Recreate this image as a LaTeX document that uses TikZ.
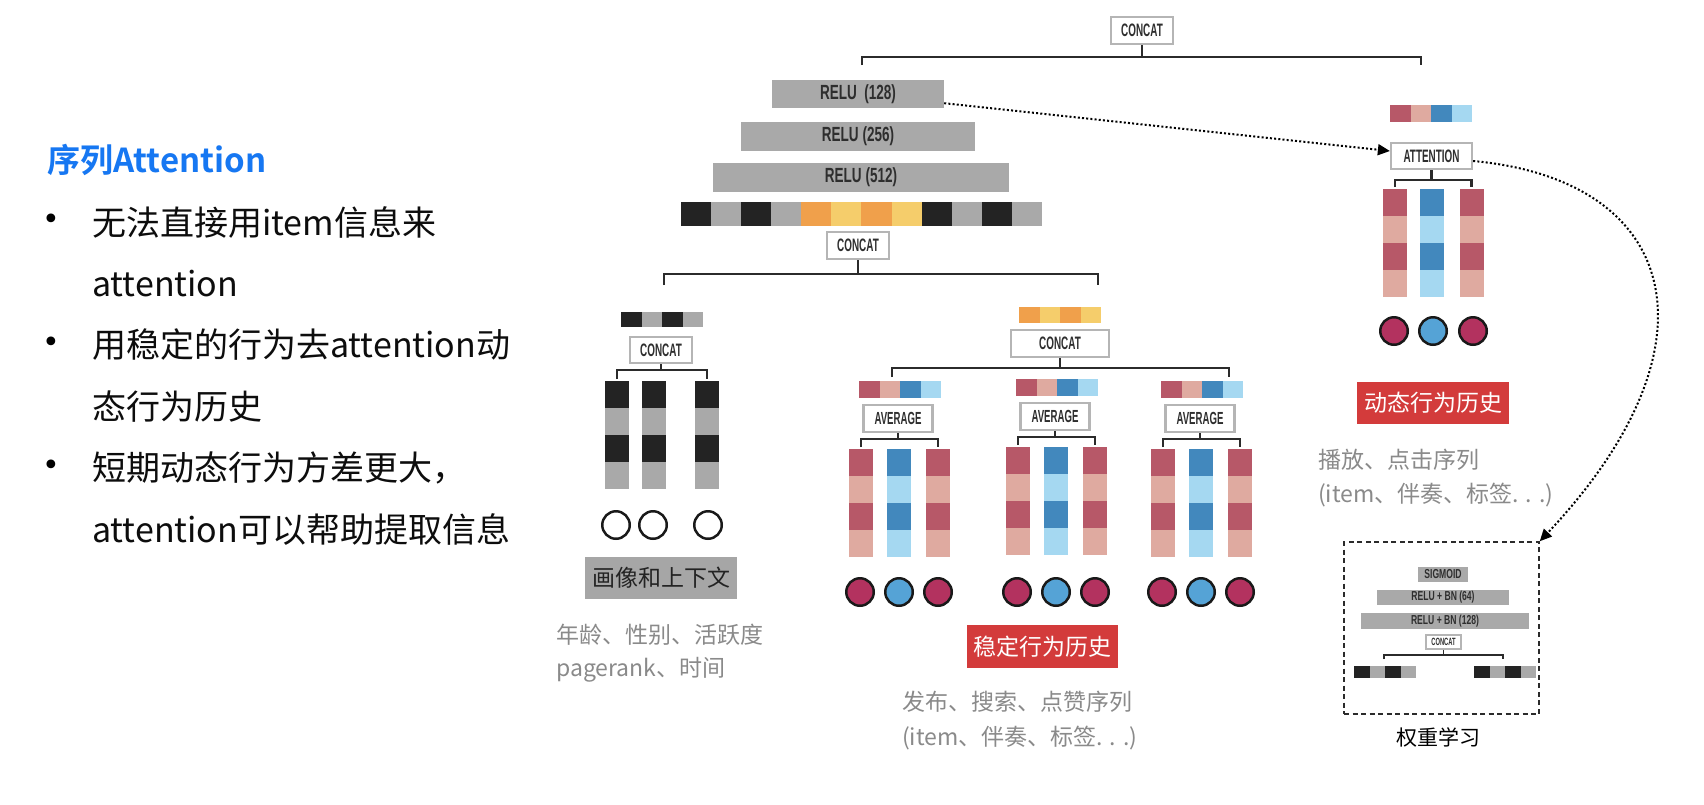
\documentclass[tikz,border=0pt]{standalone}
\usepackage{fontspec}
\setmainfont{Noto Sans CJK SC}
\newfontfamily\cjk[BoldFont={Noto Sans CJK SC Bold}]{Noto Sans CJK SC}
\newfontfamily\bulfont{DejaVu Sans}
\newfontfamily\cfont[FakeStretch=0.55]{Liberation Sans Bold}
\newfontfamily\rfont[FakeStretch=0.66]{Liberation Sans Bold}
\usetikzlibrary{arrows.meta}
\definecolor{bk}{HTML}{232323}
\definecolor{gy}{HTML}{A9A9A9}
\definecolor{orA}{HTML}{F0A04B}
\definecolor{ylA}{HTML}{F5CD6B}
\definecolor{drA}{HTML}{B75868}
\definecolor{pkA}{HTML}{DFAAA0}
\definecolor{buA}{HTML}{4288BD}
\definecolor{lbA}{HTML}{A5D8F1}
\definecolor{crc}{HTML}{B3325F}
\definecolor{blc}{HTML}{55A3D6}
\definecolor{boxg}{HTML}{B5B5B5}
\definecolor{redl}{HTML}{D33B3B}
\definecolor{labg}{HTML}{A6A6A6}
\definecolor{txtg}{HTML}{8A8A8A}
\definecolor{ttlb}{HTML}{1677F2}
\definecolor{lnk}{HTML}{2B2B2B}
\definecolor{txk}{HTML}{2E2E2E}
% vector of equal segments: x-left, y-top, seg width, height, colours
\newcommand\myvec[5]{%
  \foreach \c [count=\i from 0] in {#5} {\fill[\c] ({#1+\i*#3},{#2}) rectangle ({#1+(\i+1)*#3},{#2+#4});}%
}
% column of 4 segments: name, centre x, top y, colour A, colour B
\newcommand\mycol[5]{%
  \fill[#4] ({#2-12},{#3}) rectangle ({#2+12},{#3+27});
  \fill[#5] ({#2-12},{#3+27}) rectangle ({#2+12},{#3+54});
  \fill[#4] ({#2-12},{#3+54}) rectangle ({#2+12},{#3+81});
  \fill[#5] ({#2-12},{#3+81}) rectangle ({#2+12},{#3+108});
  \coordinate (#1) at ({#2},{#3-2});
}
% average group: index, centre x, top y of vector
\newcommand\avggroup[3]{%
  \myvec{#2-40}{#3}{20.5}{17}{drA,pkA,buA,lbA}
  \node[box, font=\cfont\fontsize{17.5}{17.5}\selectfont, minimum width=69pt, minimum height=27pt] (avg#1) at ({#2-1},{#3+37.5}) {AVERAGE};
  \mycol{a#1c1}{#2-38}{#3+68}{drA}{pkA}
  \mycol{a#1c2}{#2}{#3+68}{buA}{lbA}
  \mycol{a#1c3}{#2+39}{#3+68}{drA}{pkA}
  \draw[conn] (a#1c1) |- (avg#1.south |- 0,{#3+58}) -| (a#1c3);
  \draw[conn] (avg#1.south) -- (avg#1.south |- 0,{#3+58});
  \node[circ, fill=crc] (a#1o1) at ({#2-39},592) {};
  \node[circ, fill=blc] (a#1o2) at ({#2},592) {};
  \node[circ, fill=crc] (a#1o3) at ({#2+39},592) {};
}
\begin{document}
\begin{tikzpicture}[x=1pt,y=-1pt,
  box/.style={draw=boxg, line width=2.3pt, fill=white, inner sep=0pt, text=txk, font=\cfont\fontsize{18}{18}\selectfont},
  bar/.style={fill=gy, inner sep=0pt, text=txk, font=\rfont\fontsize{20.5}{20.5}\selectfont},
  sbar/.style={fill=gy, inner sep=0pt, text=txk, font=\rfont\fontsize{13}{13}\selectfont},
  sbox/.style={draw=boxg, line width=1.2pt, fill=white, inner sep=0pt, text=txk, font=\cfont\fontsize{10.5}{10.5}\selectfont},
  conn/.style={draw=lnk, line width=2.2pt},
  sconn/.style={draw=lnk, line width=1.2pt},
  circ/.style={circle, draw=black!90, line width=2.5pt, minimum size=27.5pt, inner sep=0pt},
  redlab/.style={fill=redl, text=white, inner sep=0pt, minimum width=152pt, minimum height=42pt, font=\cjk\fontsize{23}{23}\selectfont},
  graylab/.style={fill=labg, text=bk, inner sep=0pt, minimum width=152pt, minimum height=42pt, font=\cjk\fontsize{23}{23}\selectfont},
  gtxt/.style={text=txtg, anchor=west, inner sep=0pt, font=\cjk\fontsize{23}{23}\selectfont},
  ttl/.style={text=ttlb, anchor=west, inner sep=0pt, font=\cjk\bfseries\fontsize{33}{33}\selectfont},
  bul/.style={text=black, inner sep=0pt, font=\bulfont\fontsize{30}{30}\selectfont},
  btxt/.style={text=black!95, anchor=west, inner sep=0pt, font=\cjk\fontsize{34}{34}\selectfont},
  dotarrow/.style={draw=black, line width=2pt, dash pattern=on 2pt off 2.2pt, -{Triangle[length=12pt,width=11pt]}}
]
\useasboundingbox (0,0) rectangle (1704,804);
\fill[white] (0,0) rectangle (1704,804);

% ---------- left text ----------
\node[ttl] (title) at (47,160) {序列Attention};
\node[bul] (b1) at (51,222) {•};
\node[bul] (b2) at (51,345) {•};
\node[bul] (b3) at (51,468) {•};
\node[btxt] (l1) at (92,222) {无法直接用item信息来};
\node[btxt] (l2) at (92,283.5) {attention};
\node[btxt] (l3) at (92,345) {用稳定的行为去attention动};
\node[btxt] (l4) at (92,406.5) {态行为历史};
\node[btxt] (l5) at (92,468) {短期动态行为方差更大，};
\node[btxt] (l6) at (92,529.5) {attention可以帮助提取信息};

% ---------- top tower ----------
\node[box, minimum width=62pt, minimum height=27pt] (tc) at (1142,30.5) {CONCAT};
\node[bar, minimum width=172pt, minimum height=28pt] (r128) at (858,94) {RELU\ \ (128)};
\node[bar, minimum width=234pt, minimum height=29pt] (r256) at (858,136.5) {RELU (256)};
\node[bar, minimum width=296pt, minimum height=29pt] (r512) at (861,177.5) {RELU (512)};
\myvec{681}{202}{30.08}{24}{bk,gy,bk,gy,orA,ylA,orA,ylA,bk,gy,bk,gy}
\node[box, minimum width=62pt, minimum height=27pt] (lc) at (858,245.5) {CONCAT};

\coordinate (tl) at (862,65);
\coordinate (tr) at (1421,65);
\draw[conn] (tl) |- (tc.south |- 0,57) -| (tr);
\draw[conn] (tc.south) -- (tc.south |- 0,57);

\coordinate (ll) at (664,285);
\coordinate (lr) at (1098,285);
\draw[conn] (ll) |- (lc.south |- 0,274) -| (lr);
\draw[conn] (lc.south) -- (lc.south |- 0,274);

% ---------- left group ----------
\myvec{621}{312}{20.5}{15}{bk,gy,bk,gy}
\node[box, minimum width=62pt, minimum height=26pt] (gc) at (661,350) {CONCAT};
\mycol{g1}{617}{381}{bk}{gy}
\mycol{g2}{653.5}{381}{bk}{gy}
\mycol{g3}{707}{381}{bk}{gy}
\draw[conn] (g1) |- (gc.south |- 0,370) -| (g3);
\draw[conn] (gc.south) -- (gc.south |- 0,370);
\node[circ, fill=white] (go1) at (616,525) {};
\node[circ, fill=white] (go2) at (653,525) {};
\node[circ, fill=white] (go3) at (708,525) {};
\node[graylab] (glab) at (661,578) {画像和上下文};
\node[gtxt] (gt1) at (556,635) {年龄、性别、活跃度};
\node[gtxt] (gt2) at (556,670) {pagerank、时间};

% ---------- middle group ----------
\myvec{1019}{307}{20.5}{16}{orA,ylA,orA,ylA}
\node[box, minimum width=98pt, minimum height=27pt] (mc) at (1060,343.5) {CONCAT};
\coordinate (ml) at (892,377);
\coordinate (mr) at (1229,377);
\draw[conn] (ml) |- (mc.south |- 0,368) -| (mr);
\draw[conn] (mc.south) -- (mc.south |- 0,368);
\avggroup{1}{899}{381}
\avggroup{2}{1056}{379}
\avggroup{3}{1201}{381}
\node[redlab, minimum width=151pt, minimum height=43pt] (slab) at (1042.5,646.5) {稳定行为历史};
\node[gtxt] (st1) at (902,702) {发布、搜索、点赞序列};
\node[gtxt] (st2) at (902,738) {(item、伴奏、标签. . .)};

% ---------- right group ----------
\myvec{1390}{105}{20.5}{17}{drA,pkA,buA,lbA}
\node[box, minimum width=81pt, minimum height=26pt] (att) at (1431.5,156) {ATTENTION};
\mycol{d1}{1395}{189}{drA}{pkA}
\mycol{d2}{1432}{189}{buA}{lbA}
\mycol{d3}{1471.5}{189}{drA}{pkA}
\draw[conn] (d1) |- (att.south |- 0,180) -| (d3);
\draw[conn] (att.south) -- (att.south |- 0,180);
\node[circ, fill=crc] (do1) at (1394,331) {};
\node[circ, fill=blc] (do2) at (1433,331) {};
\node[circ, fill=crc] (do3) at (1473,331) {};
\node[redlab] (dlab) at (1433,403) {动态行为历史};
\node[gtxt] (dt1) at (1318,460) {播放、点击序列};
\node[gtxt] (dt2) at (1318,495) {(item、伴奏、标签. . .)};

% ---------- weight learning box ----------
\node[draw=lnk, dash pattern=on 5pt off 3.5pt, line width=1.5pt, minimum width=195pt, minimum height=172pt, inner sep=0pt] (wbox) at (1441.5,628) {};
\node[sbar, minimum width=50pt, minimum height=15pt] (sig) at (1443,574.5) {SIGMOID};
\node[sbar, minimum width=132pt, minimum height=15pt] (rb64) at (1443,597.5) {RELU + BN (64)};
\node[sbar, minimum width=168pt, minimum height=16pt] (rb128) at (1445,621) {RELU + BN (128)};
\node[sbox, minimum width=35pt, minimum height=14pt] (sc) at (1443.5,642) {CONCAT};
\coordinate (sl) at (1384,659);
\coordinate (sr) at (1503,659);
\draw[sconn] (sl) |- (sc.south |- 0,655) -| (sr);
\draw[sconn] (sc.south) -- (sc.south |- 0,655);
\myvec{1354}{666}{15.5}{12}{bk,gy,bk,gy}
\myvec{1474}{666}{15.5}{12}{bk,gy,bk,gy}
\node[font=\cjk\fontsize{21}{21}\selectfont, text=black, inner sep=0pt] (wl) at (1438,737) {权重学习};

% ---------- dotted arrows ----------
\draw[dotarrow] ([yshift=5pt]r128.south east) -- ([yshift=5pt]att.west);
\draw[dotarrow] ([yshift=-5pt]att.east) .. controls (1680,180) and (1725,345) .. (wbox.north east);
\end{tikzpicture}
\end{document}
